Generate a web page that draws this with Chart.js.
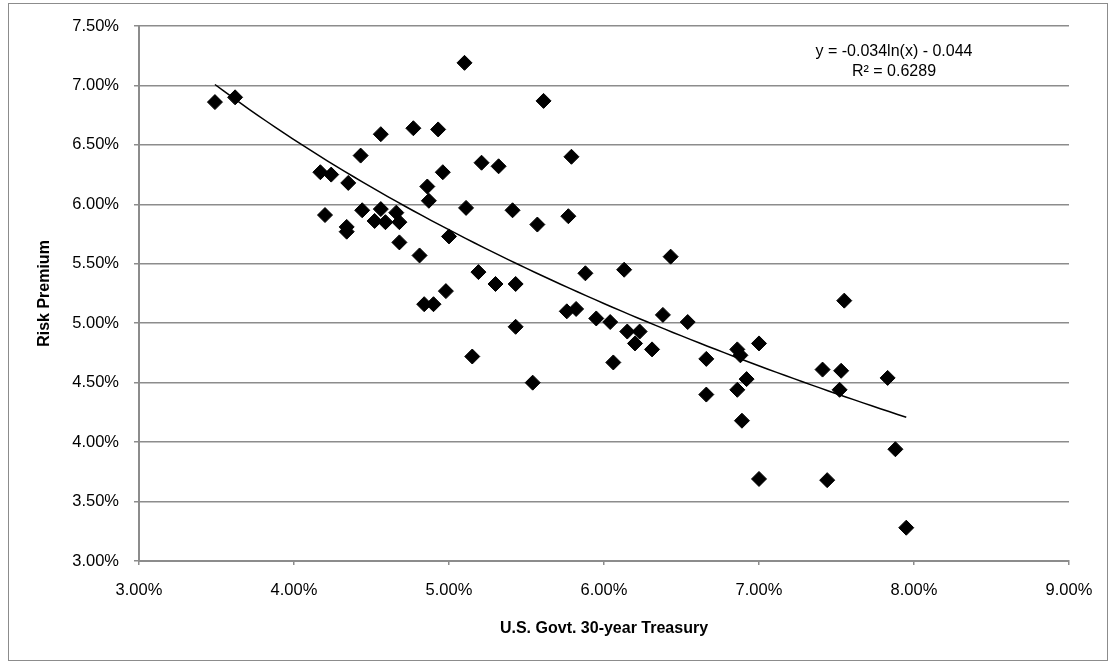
<!DOCTYPE html>
<html>
<head>
<meta charset="utf-8">
<script src="https://cdn.jsdelivr.net/npm/chart.js@4"></script>
<style>
  html, body { margin: 0; padding: 0; background: #fff; }
  canvas { display: block; }
</style>
</head>
<body>
<canvas id="chart" width="1115" height="663"></canvas>
<script>
// U.S. Govt. 30-year Treasury yield (%) and risk premium (%)
const treasuryYield = [
    3.49, 3.62, 4.56, 4.43, 4.17, 4.24, 4.35, 4.20, 4.44, 4.56,
    4.34, 4.34, 4.52, 4.59, 4.66, 4.68, 4.68, 5.10, 5.61, 4.77,
    4.93, 5.21, 5.32, 5.79, 4.96, 4.86, 4.87, 5.11, 5.41, 5.77,
    5.57, 4.81, 5.00, 5.19, 5.88, 6.13, 6.43, 5.30, 5.43, 5.15,
    5.43, 5.54, 5.76, 5.82, 5.95, 6.04, 6.06, 6.15, 6.23, 6.20,
    6.31, 6.38, 6.54, 6.66, 6.66, 6.86, 6.88, 6.92, 6.86, 6.89,
    7.00, 7.00, 4.84, 4.90, 4.98, 7.55, 7.41, 7.53, 7.52, 7.83,
    7.88, 7.44, 7.95
];
const riskPremium = [
    6.86, 6.90, 6.59, 6.41, 6.27, 6.25, 6.18, 5.91, 5.95, 5.96,
    5.81, 5.77, 5.86, 5.85, 5.93, 5.85, 5.68, 7.19, 6.87, 6.64,
    6.63, 6.35, 6.32, 6.40, 6.27, 6.15, 6.03, 5.97, 5.95, 5.90,
    5.83, 5.57, 5.73, 5.43, 5.42, 5.45, 5.56, 5.33, 5.33, 4.72,
    4.97, 4.50, 5.10, 5.12, 5.04, 5.01, 4.67, 4.93, 4.93, 4.83,
    4.78, 5.07, 5.01, 4.70, 4.40, 4.78, 4.73, 4.53, 4.44, 4.18,
    4.83, 3.69, 5.16, 5.16, 5.27, 5.19, 4.61, 4.60, 4.44, 4.54,
    3.94, 3.68, 3.28
];

// logarithmic trendline shown on the chart: y = -0.034ln(x) - 0.044
const trendA = -0.034;
const trendB = -0.044;
const trendLabel = ['y = -0.034ln(x) - 0.044', 'R² = 0.6289'];

const xTicks = [3, 4, 5, 6, 7, 8, 9];
const yTicks = [3, 3.5, 4, 4.5, 5, 5.5, 6, 6.5, 7, 7.5];

const FONT = "'Liberation Sans', Arial, sans-serif";
const GRID = '#8c8c8c';

const scatterPoints = treasuryYield.map((x, i) => ({ x: x, y: riskPremium[i] }));

// trendline sampled between the smallest and largest yield
const xMin = Math.min(...treasuryYield);
const xMax = Math.max(...treasuryYield);
const trendPoints = [];
for (let i = 0; i <= 80; i++) {
    const x = xMin + (xMax - xMin) * i / 80;
    trendPoints.push({ x: x, y: 100 * (trendA * Math.log(x / 100) + trendB) });
}

// white background and the outer chart frame
const framePlugin = {
    id: 'frame',
    beforeDraw(chart) {
        const ctx = chart.ctx;
        ctx.save();
        ctx.fillStyle = '#fff';
        ctx.fillRect(0, 0, chart.width, chart.height);
        ctx.strokeStyle = '#8c8c8c';
        ctx.lineWidth = 1;
        ctx.strokeRect(8.5, 3.5, chart.width - 16, chart.height - 6);
        ctx.restore();
    }
};

// equation and R² box in the upper right
const trendLabelPlugin = {
    id: 'trendLabel',
    afterDatasetsDraw(chart) {
        const ctx = chart.ctx;
        const area = chart.chartArea;
        ctx.save();
        ctx.fillStyle = '#000';
        ctx.font = '16px ' + FONT;
        ctx.textAlign = 'center';
        ctx.textBaseline = 'middle';
        const cx = area.right - 175;
        ctx.fillText(trendLabel[0], cx, area.top + 26);
        ctx.fillText(trendLabel[1], cx, area.top + 46);
        ctx.restore();
    }
};

new Chart(document.getElementById('chart'), {
    type: 'scatter',
    data: {
        datasets: [
            {
                type: 'line',
                data: trendPoints,
                borderColor: '#000',
                borderWidth: 1.5,
                pointRadius: 0,
                fill: false,
                tension: 0,
                order: 0
            },
            {
                data: scatterPoints,
                pointStyle: 'rectRot',
                pointRadius: 7.5,
                backgroundColor: '#000',
                borderColor: '#000',
                borderWidth: 1,
                order: 1
            }
        ]
    },
    options: {
        responsive: false,
        animation: false,
        events: [],
        layout: {
            padding: { left: 0, top: 26, right: 46, bottom: 0 }
        },
        plugins: {
            legend: { display: false },
            tooltip: { enabled: false }
        },
        scales: {
            x: {
                type: 'linear',
                min: 3,
                max: 9,
                afterBuildTicks: s => { s.ticks = xTicks.map(v => ({ value: v })); },
                afterFit: s => { s.height = 102; },
                grid: {
                    drawOnChartArea: false,
                    drawTicks: true,
                    tickLength: 4,
                    color: GRID,
                    lineWidth: 1.5
                },
                border: { display: true, color: GRID, width: 2 },
                ticks: {
                    color: '#000',
                    padding: 16,
                    font: { family: FONT, size: 16.5 },
                    callback: v => v.toFixed(2) + '%'
                },
                title: {
                    display: true,
                    text: 'U.S. Govt. 30-year Treasury',
                    color: '#000',
                    font: { family: FONT, size: 16, weight: 'bold' },
                    padding: { top: 0, bottom: 25 }
                }
            },
            y: {
                type: 'linear',
                min: 3,
                max: 7.5,
                afterBuildTicks: s => { s.ticks = yTicks.map(v => ({ value: v })); },
                afterFit: s => { s.width = 139; },
                grid: {
                    color: GRID,
                    lineWidth: 1.5,
                    drawTicks: true,
                    tickLength: 5
                },
                border: { display: true, color: GRID, width: 2 },
                ticks: {
                    color: '#000',
                    padding: 15,
                    font: { family: FONT, size: 16.5 },
                    callback: v => v.toFixed(2) + '%'
                },
                title: {
                    display: true,
                    text: 'Risk Premium',
                    color: '#000',
                    font: { family: FONT, size: 16, weight: 'bold' },
                    padding: { top: 35, bottom: 0 }
                }
            }
        }
    },
    plugins: [framePlugin, trendLabelPlugin]
});
</script>
</body>
</html>
